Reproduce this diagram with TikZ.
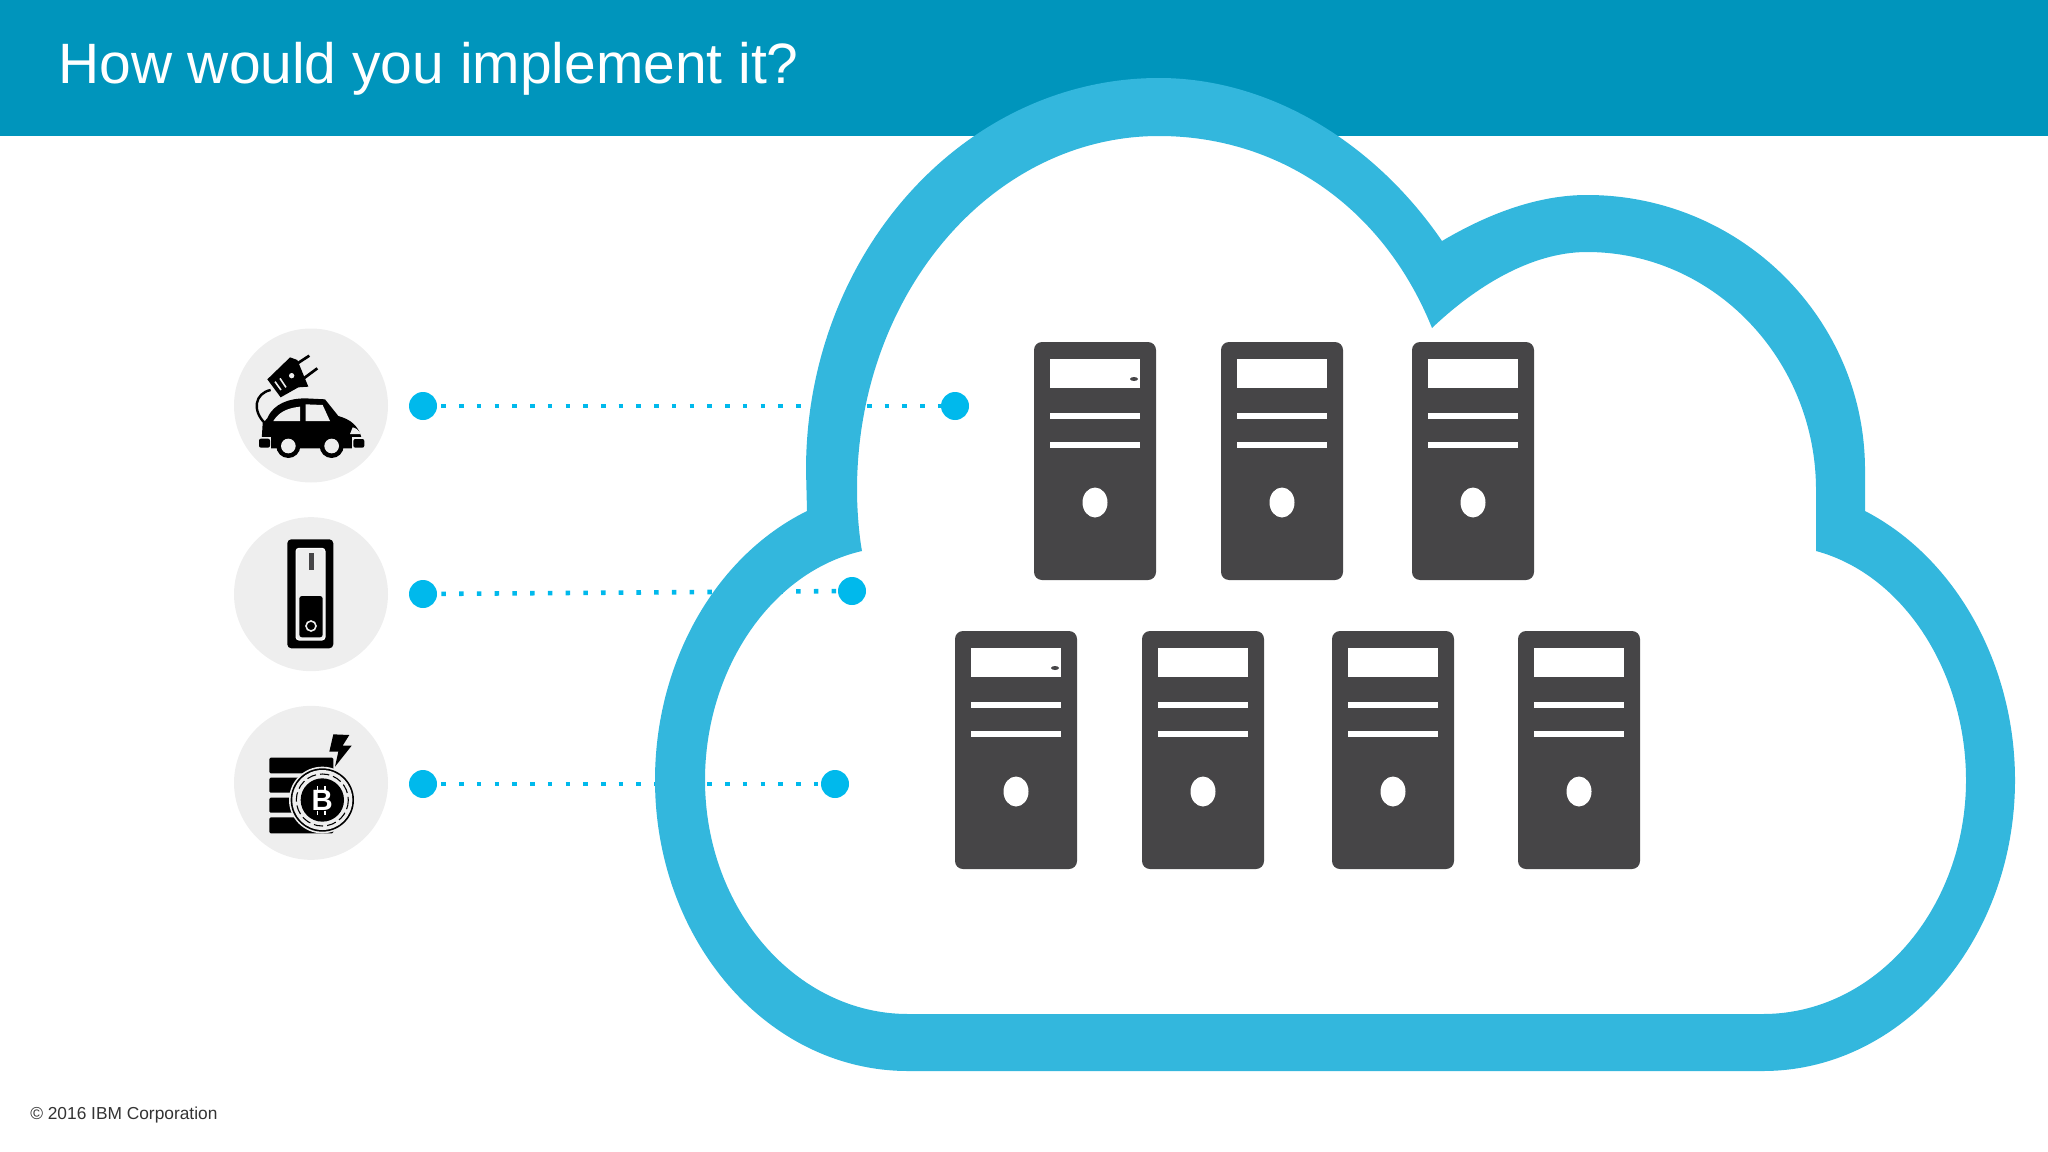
\documentclass[tikz,border=0pt]{standalone}
\usepackage{fontspec}
\setmainfont{Liberation Sans}
\usetikzlibrary{positioning}
\definecolor{headblue}{HTML}{0095BC}
\definecolor{cloudblue}{HTML}{33B7DD}
\definecolor{dotblue}{HTML}{00B9EC}
\definecolor{icongray}{HTML}{EEEEEE}
\definecolor{towergray}{HTML}{464547}
\tikzset{
	tower/.pic={
		\fill[towergray, rounded corners=6pt] (0,0) rectangle (122,238);
		\fill[white] (16,16.5) rectangle (106,45.5);
		\fill[white] (16,71) rectangle (106,77);
		\fill[white] (16,100) rectangle (106,106);
		\fill[white] (61,160.5) ellipse [x radius=12.5, y radius=15];
	},
	towerled/.pic={
		\fill[towergray] (100,37) ellipse [x radius=4, y radius=2];
	}
}
\begin{document}
\begin{tikzpicture}[
	x=0.75pt,
	y=-0.75pt,
	on grid,
	node distance=141.5pt,
	icon/.style={
		circle,
		fill=icongray,
		minimum size=115.5pt,
		inner sep=0pt
	},
	linkdot/.style={
		circle,
		fill=dotblue,
		minimum size=21pt,
		inner sep=0pt
	},
	link/.style={
		dotblue,
		line width=3.4pt,
		dash pattern=on 3.4pt off 9.9pt,
		dash phase=10.2pt
	}]

	\useasboundingbox (0,0) rectangle (2048,1152);
	\fill[headblue] (0,0) rectangle (2048,136);
	\node[anchor=base west, inner sep=0pt, white, font=\fontsize{42.7}{50}\selectfont] (title) at (58,84) {How would you implement it?};
	\node[anchor=base west, inner sep=0pt, text=black!80, font=\fontsize{13}{16}\selectfont] (copyright) at (30,1119) {© 2016 IBM Corporation};

	% left column
	\node[icon] (icon_1) at (311,405.5) {};
	\node[icon, below=of icon_1] (icon_2) {};
	\node[icon, below=of icon_2] (icon_3) {};

	\node[linkdot] (dot_1) at (423,406) {};
	\node[linkdot] (dot_2) at (423,594) {};
	\node[linkdot] (dot_3) at (423,784) {};
	\node[linkdot] (end_1) at (955,406) {};
	\node[linkdot] (end_2) at (852,591) {};
	\node[linkdot] (end_3) at (835,784) {};
	\path[link]
		(dot_1) edge (end_1)
		(dot_2) edge (end_2)
		(dot_3) edge (end_3);

	% cloud
	\fill[cloudblue, even odd rule]
		(807,511) -- (806,470)
		.. controls (806,254) and (964,78) .. (1159,78)
		.. controls (1270,78) and (1375,143) .. (1442,241)
		.. controls (1486,215) and (1536,195) .. (1587,195)
		.. controls (1740,195) and (1865,318) .. (1865,470)
		-- (1865,511)
		.. controls (1956,558) and (2015,665) .. (2015,780)
		.. controls (2015,941) and (1902,1071) .. (1763,1071)
		-- (908,1071)
		.. controls (768,1071) and (655,941) .. (655,780)
		.. controls (655,664) and (714,557) .. (807,511) -- cycle
		(862,551)
		.. controls (859,535) and (857,510) .. (857,490)
		.. controls (857,294) and (992,136) .. (1159,136)
		.. controls (1276,136) and (1382,204) .. (1432,328)
		.. controls (1474,288) and (1530,252) .. (1587,252)
		.. controls (1713,252) and (1816,359) .. (1816,490)
		-- (1816,551)
		.. controls (1905,575) and (1966,674) .. (1966,780)
		.. controls (1966,909) and (1875,1014) .. (1763,1014)
		-- (908,1014)
		.. controls (796,1014) and (705,909) .. (705,780)
		.. controls (705,671) and (770,572) .. (862,551) -- cycle;

	% servers
	\foreach \px/\py in {1034/342,1221/342,1412/342,955/631,1142/631,1332/631,1518/631}
		\pic at (\px,\py) {tower};
	\pic at (1034,342) {towerled};
	\pic at (955,631) {towerled};

	% car
	\begin{scope}[shift={(210,310)}, xscale=1/3, yscale=1/3]
		\draw[black, line width=1.8pt] (182,240) .. controls (135,250) and (125,300) .. (165,340);
		\fill[black] (172,208) -- (232,150) -- (240,142) -- (262,150) -- (295,230) -- (265,232) -- (212,262) -- cycle;
		\draw[black, line width=2pt] (255,165) -- (298,137) (272,212) -- (322,175);
		\draw[icongray, line width=1.2pt] (195,215) -- (213,240) (210,205) -- (228,232);
		\fill[icongray] (245,197) circle [radius=8];
		\fill[black] (155,390) -- (158,340) -- (172,325) .. controls (190,280) and (240,265) .. (285,265)
			-- (345,268) -- (385,318) .. controls (420,328) and (445,345) .. (455,385) -- (450,415) -- (160,415) -- cycle;
		\fill[icongray] (190,333) .. controls (205,310) and (225,295) .. (270,290) -- (270,333) -- cycle;
		\fill[icongray] (287,333) -- (287,283) -- (338,285) -- (360,333) -- cycle;
		\fill[icongray] (420,372) -- (428,352) .. controls (438,354) and (448,362) .. (452,372) -- cycle;
		\fill[icongray] (140,380) rectangle (184,420);
		\fill[icongray] (426,382) rectangle (470,420);
		\fill[black, rounded corners=1.5pt] (147,386) rectangle (180,413);
		\fill[black, rounded corners=1.5pt] (430,387) rectangle (463,413);
		\foreach \wx in {235,365} {
			\fill[black] (\wx,408) circle [radius=36];
			\fill[icongray] (\wx,408) circle [radius=22];
		}
	\end{scope}

	% charger
	\fill[black, rounded corners=3pt] (287.3,539.3) rectangle (333.3,648.3);
	\fill[white, rounded corners=2.5pt] (295.5,547.8) rectangle (325.5,640.5);
	\fill[icongray, rounded corners=2.5pt] (296.5,548.8) rectangle (324.5,639.5);
	\fill[black, rounded corners=2pt] (299.3,596) rectangle (322.7,637.3);
	\fill[towergray] (309.3,553.3) rectangle (314,570);
	\draw[icongray, line width=1.2pt] (311,626) circle [radius=5];

	% coins
	\begin{scope}[shift={(210,600)}, xscale=1/3, yscale=1/3]
		\foreach \ya/\yb in {473/520,533/578,593/638,652/700}
			\fill[black, rounded corners=1pt] (178,\ya) rectangle (370,\yb);
		\fill[black] (370,403) -- (418,405) -- (398,437) -- (425,437) -- (375,500) -- (385,455) -- (358,455) -- cycle;
		\fill[icongray] (337,600) circle [radius=100];
		\fill[black] (337,600) circle [radius=95];
		\fill[icongray] (337,600) circle [radius=90];
		\draw[black, line width=0.8pt, dash pattern=on 7pt off 3pt] (337,600) circle [radius=78];
		\fill[black] (337,600) circle [radius=65];
		\node[white, inner sep=0pt, font=\fontsize{22}{24}\bfseries\selectfont] (coin) at (337,602) {B};
		\draw[white, line width=1.2pt] (322,558) -- (322,572) (345,558) -- (345,572) (322,632) -- (322,645) (345,632) -- (345,645);
	\end{scope}
\end{tikzpicture}
\end{document}
